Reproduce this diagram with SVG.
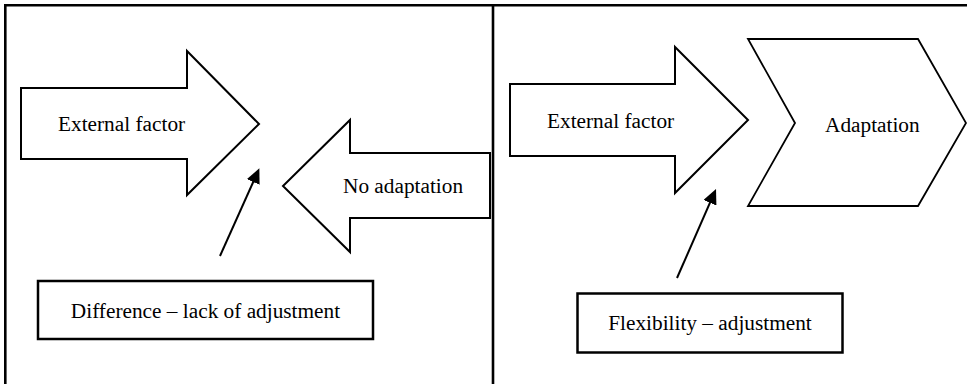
<svg xmlns="http://www.w3.org/2000/svg" width="967" height="384" viewBox="0 0 967 384">
  <style>
    .frame { stroke: #000; stroke-width: 2.6; fill: none; }
    .shape { stroke: #000; stroke-width: 2; fill: #fff; stroke-linejoin: miter; }
    .chev { stroke: #000; stroke-width: 1.8; fill: #fff; }
    .box { stroke: #000; stroke-width: 2.5; fill: #fff; }
    text { font-family: 'Liberation Serif', 'Times New Roman', Times, 'DejaVu Serif', serif; font-size: 21.3px; fill: #000; }
    .mid { text-anchor: middle; }
    .conn { stroke: #000; stroke-width: 2; fill: none; marker-end: url(#head); }
  </style>
  <defs>
    <marker id="head" viewBox="0 0 15 14" refX="5" refY="7" markerWidth="15" markerHeight="14" markerUnits="userSpaceOnUse" orient="auto">
      <path d="M0,0 L15,7 L0,14 Z" fill="#000"/>
    </marker>
  </defs>

  <rect width="967" height="384" fill="#fff"/>

  <!-- panel frame: top rule, left rule, centre divider -->
  <g id="frame" class="frame">
    <line x1="4" y1="5.3" x2="967" y2="5.3"/>
    <line x1="5.3" y1="4" x2="5.3" y2="384"/>
    <line x1="493" y1="4" x2="493" y2="384"/>
  </g>

  <g font-family="Liberation Serif, Times New Roman, serif" font-size="21.3">
    <!-- left panel -->
    <g id="external-factor-left">
      <path class="shape" d="M21,88 L187,88 L187,51 L259,124 L187,195 L187,159 L21,159 Z"/>
      <text x="58" y="131">External factor</text>
    </g>

    <g id="no-adaptation">
      <path class="shape" d="M490,153 L350,153 L350,120 L283,186 L350,252 L350,218 L490,218 Z"/>
      <text x="343" y="193">No adaptation</text>
    </g>

    <g id="difference">
      <rect class="box" x="38" y="281" width="335" height="58"/>
      <text class="mid" x="205.5" y="317.7">Difference – lack of adjustment</text>
    </g>

    <!-- right panel -->
    <g id="external-factor-right">
      <path class="shape" d="M510,84 L675,84 L675,47 L748,120 L675,193 L675,156 L510,156 Z"/>
      <text x="547" y="128">External factor</text>
    </g>

    <g id="adaptation">
      <path class="chev" d="M748,39 L918,39 L966,123 L918,206 L748,206 L795,123 Z"/>
      <text x="825" y="131.7">Adaptation</text>
    </g>

    <g id="flexibility">
      <rect class="box" x="577.5" y="293.5" width="265" height="59"/>
      <text class="mid" x="710" y="330">Flexibility – adjustment</text>
    </g>
  </g>

  <!-- connectors -->
  <g id="connectors">
    <line class="conn" x1="220" y1="256" x2="255.25" y2="177.44"/>
    <line class="conn" x1="677" y1="278" x2="712" y2="198.2"/>
  </g>
</svg>
